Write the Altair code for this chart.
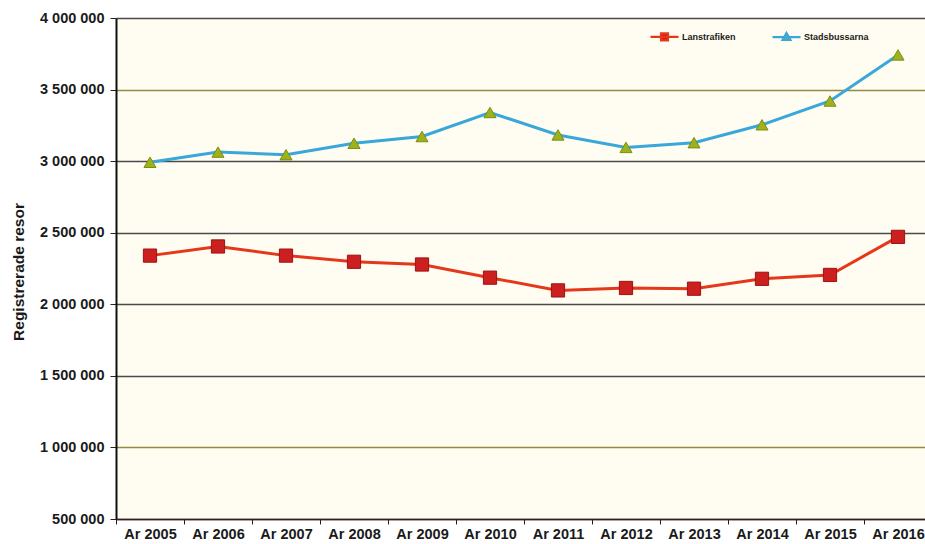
import altair as alt
import pandas as pd

years = ["Ar 2005", "Ar 2006", "Ar 2007", "Ar 2008", "Ar 2009", "Ar 2010",
         "Ar 2011", "Ar 2012", "Ar 2013", "Ar 2014", "Ar 2015", "Ar 2016"]
series_names = ["Lanstrafiken", "Stadsbussarna"]
lanstrafiken = [2340000, 2404000, 2340000, 2297000, 2278000, 2186000,
                2097000, 2114000, 2109000, 2178000, 2205000, 2471000]
stadsbussarna = [2992000, 3063000, 3045000, 3125000, 3172000, 3340000,
                 3183000, 3096000, 3129000, 3254000, 3420000, 3742000]
y_ticks = [500000, 1000000, 1500000, 2000000, 2500000, 3000000, 3500000, 4000000]

df = pd.DataFrame({
    "year": years + years,
    "series": [series_names[0]] * len(years) + [series_names[1]] * len(years),
    "value": lanstrafiken + stadsbussarna,
})

RED_LINE = "#e5381a"
RED_FILL = "#cc1f1f"
RED_EDGE = "#9c1212"
BLUE_LINE = "#3aa7da"
GREEN_FILL = "#9db31c"
GREEN_EDGE = "#7d8c12"

W, H = 809, 501

x_enc = alt.X("year:N", sort=years, title=None,
              scale=alt.Scale(type="band", domain=years, paddingInner=0, paddingOuter=0,
                              range=[0, 816]),
              axis=alt.Axis(labelAngle=0, tickBand="extent", labelFont="Liberation Sans",
                            labelFontSize=14.5, labelFontWeight="bold", labelColor="#1a1a1a",
                            labelPadding=3, tickSize=5, tickColor="#222", domainColor="#3a1a1a",
                            domainWidth=1.5, grid=False))

label_expr = "replace(replace(format(datum.value, ',d'), ',', ' '), ',', ' ')"
y_enc = alt.Y("value:Q", title="Registrerade resor",
              scale=alt.Scale(domain=[500000, 4000000], nice=False, zero=False),
              axis=alt.Axis(values=y_ticks, labelExpr=label_expr, labelFont="Liberation Sans",
                            labelFontSize=14.5, labelFontWeight="bold", labelColor="#1a1a1a",
                            tickSize=6, tickColor="#222", labelPadding=6,
                            domainColor="#111", domainWidth=2,
                            grid=True,
                            gridColor={"condition": {"test": "datum.value === 3500000 || datum.value === 1000000",
                                                     "value": "#968a3c"},
                                       "value": "#4a4a4a"},
                            gridWidth=1.3,
                            titleFont="Liberation Sans", titleFontSize=15.5, titleFontWeight="bold",
                            titleColor="#1a1a1a", titleX=-98, titleY=H / 2 + 3, titleAngle=270,
                            titleAlign="center", titleBaseline="middle"))

base = alt.Chart(df)

lines = base.mark_line(strokeWidth=3).encode(
    x=x_enc, y=y_enc,
    stroke=alt.Stroke("series:N", scale=alt.Scale(domain=series_names, range=[RED_LINE, BLUE_LINE])),
)

red_pts = base.transform_filter(alt.datum.series == series_names[0]).mark_point(
    shape="square", filled=True, fill=RED_FILL, stroke=RED_EDGE, strokeWidth=1, opacity=1, size=175
).encode(x=x_enc, y=y_enc)

blue_pts = base.transform_filter(alt.datum.series == series_names[1]).mark_point(
    shape="triangle-up", filled=True, fill=GREEN_FILL, stroke=GREEN_EDGE, strokeWidth=1, opacity=1, size=145
).encode(x=x_enc, y=y_enc)

legend = alt.Legend(title=None, orient="none", legendX=533, legendY=3, direction="horizontal",
                    symbolSize=784, symbolStrokeWidth=2.2, symbolOpacity=1,
                    labelFont="Liberation Sans", labelFontSize=9, labelFontWeight="bold",
                    labelColor="#1a1a1a", labelOffset=2, columnPadding=32)

legend_layer = base.mark_point(filled=True, opacity=0).encode(
    x=x_enc, y=y_enc,
    stroke=alt.Stroke("series:N", scale=alt.Scale(domain=series_names, range=[RED_LINE, BLUE_LINE]),
                      legend=legend),
    fill=alt.Fill("series:N", scale=alt.Scale(domain=series_names, range=[RED_FILL, GREEN_FILL]),
                  legend=legend),
    shape=alt.Shape("series:N", scale=alt.Scale(domain=series_names, range=[
        "M-1,0H1M-0.25,-0.25H0.25V0.25H-0.25Z",
        "M-1,0H1M0,-0.3L0.28,0.2H-0.28Z"]), legend=legend),
)

chart = alt.layer(lines, red_pts, blue_pts, legend_layer).properties(
    width=W, height=H,
    autosize=alt.AutoSizeParams(type="none"),
    padding={"left": 108, "top": 10, "right": 0, "bottom": 24},
    background="#ffffff",
).configure_view(fill="#fffdf2", stroke=None)

css = ("html,body{overflow:hidden} body{margin:8px 0 0 8px} "
       ".vega-embed{display:block;position:relative} .vega-embed svg{display:block}")
chart.save("out.html", embed_options={"renderer": "svg", "actions": False, "defaultStyle": css})
